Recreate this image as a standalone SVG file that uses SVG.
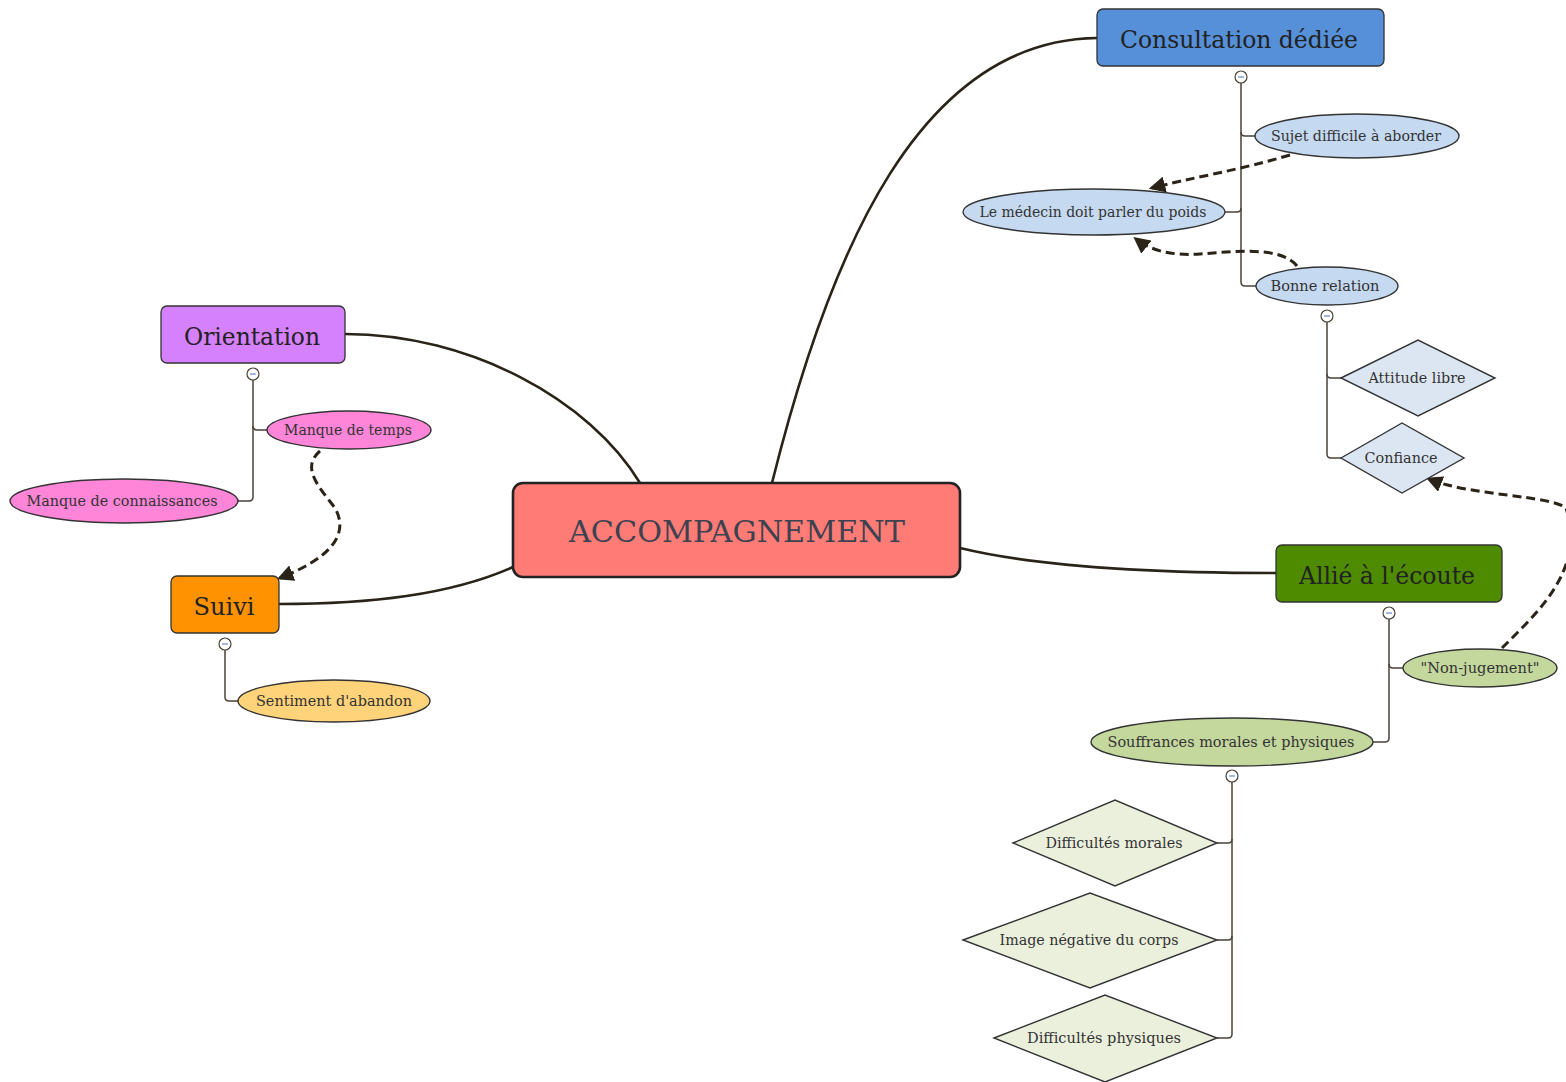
<svg xmlns="http://www.w3.org/2000/svg" width="1566" height="1082" viewBox="0 0 1566 1082">
<style>
text{font-family:"DejaVu Serif","Liberation Serif",serif;text-anchor:middle;fill:#333}
.main{stroke:#2a2418;stroke-width:2.6;fill:none}
.tree{stroke:#4a4238;stroke-width:1.5;fill:none}
.dash{stroke:#2a2418;stroke-width:3;fill:none;stroke-dasharray:9,5}
.topic{stroke:#333;stroke-width:1.3}
.leaf{stroke:#333;stroke-width:1.4}
.t1{font-size:24px;fill:#222}
.t2{font-size:14.5px}
.tog{fill:#fff;stroke:#4a4238;stroke-width:1.2}
.togm{stroke:#6a86c8;stroke-width:1.2}
</style>
<defs>
<marker id="ah" viewBox="0 0 10 10" refX="8" refY="5" markerWidth="5.5" markerHeight="5.5" orient="auto" markerUnits="strokeWidth">
<path d="M0,0 L10,5 L0,10 z" fill="#2a2418"/>
</marker>
</defs>
<rect width="1566" height="1082" fill="#fff"/>
<g id="connectors">
<path class="main" d="M640,483 C590,400 470,334 345,334"/>
<path class="main" d="M772,483 C830,250 920,40 1097,38"/>
<path class="main" d="M513,567 C450,595 370,604 279,604"/>
<path class="main" d="M960,548 C1030,565 1130,573 1276,573"/>
<path class="tree" d="M1241,83 V282 Q1241,286 1245,286 H1256"/>
<path class="tree" d="M1241,132 Q1241,136 1245,136 H1256"/>
<path class="tree" d="M1241,208 Q1241,212 1237,212 H1225"/>
<path class="tree" d="M1327,322 V454 Q1327,458 1331,458 H1341"/>
<path class="tree" d="M1327,374 Q1327,378 1331,378 H1341"/>
<path class="tree" d="M253,380 V497 Q253,501 249,501 H238"/>
<path class="tree" d="M253,426 Q253,430 257,430 H267"/>
<path class="tree" d="M225,650 V697 Q225,701 229,701 H239"/>
<path class="tree" d="M1389,619 V738 Q1389,742 1385,742 H1373"/>
<path class="tree" d="M1389,664 Q1389,668 1393,668 H1404"/>
<path class="tree" d="M1232,782 V1034 Q1232,1038 1228,1038 H1217"/>
<path class="tree" d="M1232,839 Q1232,843 1228,843 H1217"/>
<path class="tree" d="M1232,936 Q1232,940 1228,940 H1217"/>
<path class="dash" marker-end="url(#ah)" d="M1290,155 C1240,170 1190,178 1152,188"/>
<path class="dash" marker-end="url(#ah)" d="M1297,266 C1280,245 1230,252 1200,254 C1170,256 1150,250 1136,239"/>
<path class="dash" marker-end="url(#ah)" d="M320,451 C300,468 320,488 335,508 C350,535 330,558 280,578"/>
<path class="dash" marker-end="url(#ah)" d="M1502,648 C1540,610 1585,570 1566,508 C1550,495 1470,496 1429,479"/>
</g>
<g id="n-center">
<rect x="513" y="483" width="447" height="94" rx="10" fill="#FF7B75" stroke="#222" stroke-width="2.6"/>
<text x="737" y="542" style="font-size:30px;fill:#3c4250" textLength="336" lengthAdjust="spacingAndGlyphs">ACCOMPAGNEMENT</text>
</g>
<g id="n-consultation">
<rect class="topic" x="1097" y="9" width="287" height="57" rx="6" fill="#5590D8"/>
<text class="t1" x="1239" y="48" textLength="238" lengthAdjust="spacingAndGlyphs">Consultation dédiée</text>
<circle class="tog" cx="1241" cy="77" r="6"/><path class="togm" d="M1238,77 H1244"/>
</g>
<g id="n-sujet">
<ellipse class="leaf" cx="1357" cy="136" rx="102" ry="22" fill="#C5D9F1"/>
<text class="t2" x="1356" y="141" textLength="170" lengthAdjust="spacingAndGlyphs">Sujet difficile à aborder</text>
</g>
<g id="n-medecin">
<ellipse class="leaf" cx="1094" cy="212" rx="131" ry="23" fill="#C5D9F1"/>
<text class="t2" x="1093" y="217" textLength="227" lengthAdjust="spacingAndGlyphs">Le médecin doit parler du poids</text>
</g>
<g id="n-bonne">
<ellipse class="leaf" cx="1327" cy="286" rx="71" ry="19" fill="#C5D9F1"/>
<text class="t2" x="1325" y="291" textLength="109" lengthAdjust="spacingAndGlyphs">Bonne relation</text>
<circle class="tog" cx="1327" cy="316" r="6"/><path class="togm" d="M1324,316 H1330"/>
</g>
<g id="n-attitude">
<polygon class="leaf" points="1341,378 1418,340 1495,378 1418,416" fill="#DCE6F2"/>
<text class="t2" x="1417" y="383" textLength="97" lengthAdjust="spacingAndGlyphs">Attitude libre</text>
</g>
<g id="n-confiance">
<polygon class="leaf" points="1341,458 1402,423 1464,458 1402,493" fill="#DCE6F2"/>
<text class="t2" x="1401" y="463" textLength="73" lengthAdjust="spacingAndGlyphs">Confiance</text>
</g>
<g id="n-orientation">
<rect class="topic" x="161" y="306" width="184" height="57" rx="6" fill="#D580FC"/>
<text class="t1" x="252" y="345" textLength="136" lengthAdjust="spacingAndGlyphs">Orientation</text>
<circle class="tog" cx="253" cy="374" r="6"/><path class="togm" d="M250,374 H256"/>
</g>
<g id="n-temps">
<ellipse class="leaf" cx="349" cy="430" rx="82" ry="19" fill="#FF85D8"/>
<text class="t2" x="348" y="435" textLength="128" lengthAdjust="spacingAndGlyphs">Manque de temps</text>
</g>
<g id="n-connaissances">
<ellipse class="leaf" cx="124" cy="501" rx="114" ry="22" fill="#FF85D8"/>
<text class="t2" x="122" y="506" textLength="191" lengthAdjust="spacingAndGlyphs">Manque de connaissances</text>
</g>
<g id="n-suivi">
<rect class="topic" x="171" y="576" width="108" height="57" rx="6" fill="#FF9200"/>
<text class="t1" x="224" y="615" textLength="61" lengthAdjust="spacingAndGlyphs">Suivi</text>
<circle class="tog" cx="225" cy="644" r="6"/><path class="togm" d="M222,644 H228"/>
</g>
<g id="n-abandon">
<ellipse class="leaf" cx="334" cy="701" rx="96" ry="21" fill="#FFD37A"/>
<text class="t2" x="334" y="706" textLength="156" lengthAdjust="spacingAndGlyphs">Sentiment d'abandon</text>
</g>
<g id="n-allie">
<rect class="topic" x="1276" y="545" width="226" height="57" rx="6" fill="#4E8B00"/>
<text class="t1" x="1387" y="584" textLength="176" lengthAdjust="spacingAndGlyphs">Allié à l'écoute</text>
<circle class="tog" cx="1389" cy="613" r="6"/><path class="togm" d="M1386,613 H1392"/>
</g>
<g id="n-jugement">
<ellipse class="leaf" cx="1480" cy="668" rx="77" ry="19" fill="#C4D89E"/>
<text class="t2" x="1480" y="673" textLength="119" lengthAdjust="spacingAndGlyphs">"Non-jugement"</text>
</g>
<g id="n-souffrances">
<ellipse class="leaf" cx="1232" cy="742" rx="141" ry="24" fill="#C4D89E"/>
<text class="t2" x="1231" y="747" textLength="247" lengthAdjust="spacingAndGlyphs">Souffrances morales et physiques</text>
<circle class="tog" cx="1232" cy="776" r="6"/><path class="togm" d="M1229,776 H1235"/>
</g>
<g id="n-morales">
<polygon class="leaf" points="1013,843 1115,800 1217,843 1115,886" fill="#EBF0DD"/>
<text class="t2" x="1114" y="848" textLength="137" lengthAdjust="spacingAndGlyphs">Difficultés morales</text>
</g>
<g id="n-image">
<polygon class="leaf" points="963,940 1090,893 1217,940 1090,988" fill="#EBF0DD"/>
<text class="t2" x="1089" y="945" textLength="179" lengthAdjust="spacingAndGlyphs">Image négative du corps</text>
</g>
<g id="n-physiques">
<polygon class="leaf" points="994,1038 1105,995 1217,1038 1105,1082" fill="#EBF0DD"/>
<text class="t2" x="1104" y="1043" textLength="154" lengthAdjust="spacingAndGlyphs">Difficultés physiques</text>
</g>
</svg>
